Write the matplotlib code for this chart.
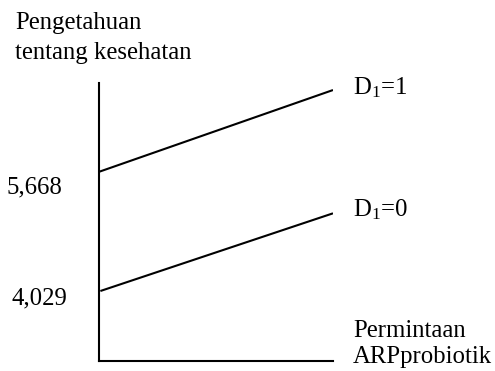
import matplotlib
matplotlib.use("Agg")
import matplotlib.pyplot as plt

plt.rcParams['font.family'] = 'Liberation Serif'
plt.rcParams['mathtext.fontset'] = 'custom'
plt.rcParams['mathtext.rm'] = 'Liberation Serif'
plt.rcParams['mathtext.it'] = 'Liberation Serif'

# intercepts and end values of the two lines (x from 0 to 1)
x_vals = [0.0, 1.0]
d1_one = [5.668, 6.797]
d0_x = [0.008, 1.0]
d1_zero = [4.029, 5.099]
intercept_labels = ["5,668", "4,029"]

y_min, y_max = 3.065, 6.898

W, H = 495, 371
fig = plt.figure(figsize=(W / 100, H / 100), dpi=100)
ax = fig.add_axes([98.5 / W, 1 - 361 / H, (333 - 98.5) / W, (361 - 82.7) / H])
ax.set_xlim(0, 1)
ax.set_ylim(y_min, y_max)
for s in ['top', 'right']:
    ax.spines[s].set_visible(False)
ax.spines['left'].set_linewidth(1.5)
ax.spines['bottom'].set_linewidth(1.5)
ax.set_xticks([])
ax.set_yticks([])
ax.patch.set_alpha(0)

ax.plot(x_vals, d1_one, color='black', lw=1.5, solid_capstyle='butt')
ax.plot(d0_x, d1_zero, color='black', lw=1.5, solid_capstyle='butt')

fs = 17.8
def ftext(px, py, s, **kw):
    fig.text(px / W, 1 - py / H, s, fontsize=fs, va='baseline', ha='left', **kw)

ftext(15, 28.5, "Pengetahuan")
ftext(15, 58.5, "tentang kesehatan")
ftext(353, 94.5, r"D$_{1}$=1")
ftext(353, 216.5, r"D$_{1}$=0")
ftext(7, 193.5, intercept_labels[0])
ftext(11, 304.5, intercept_labels[1])
ftext(353, 337, "Permintaan")
ftext(353, 363.5, "ARPprobiotik")

fig.savefig("out.png", dpi=100)
